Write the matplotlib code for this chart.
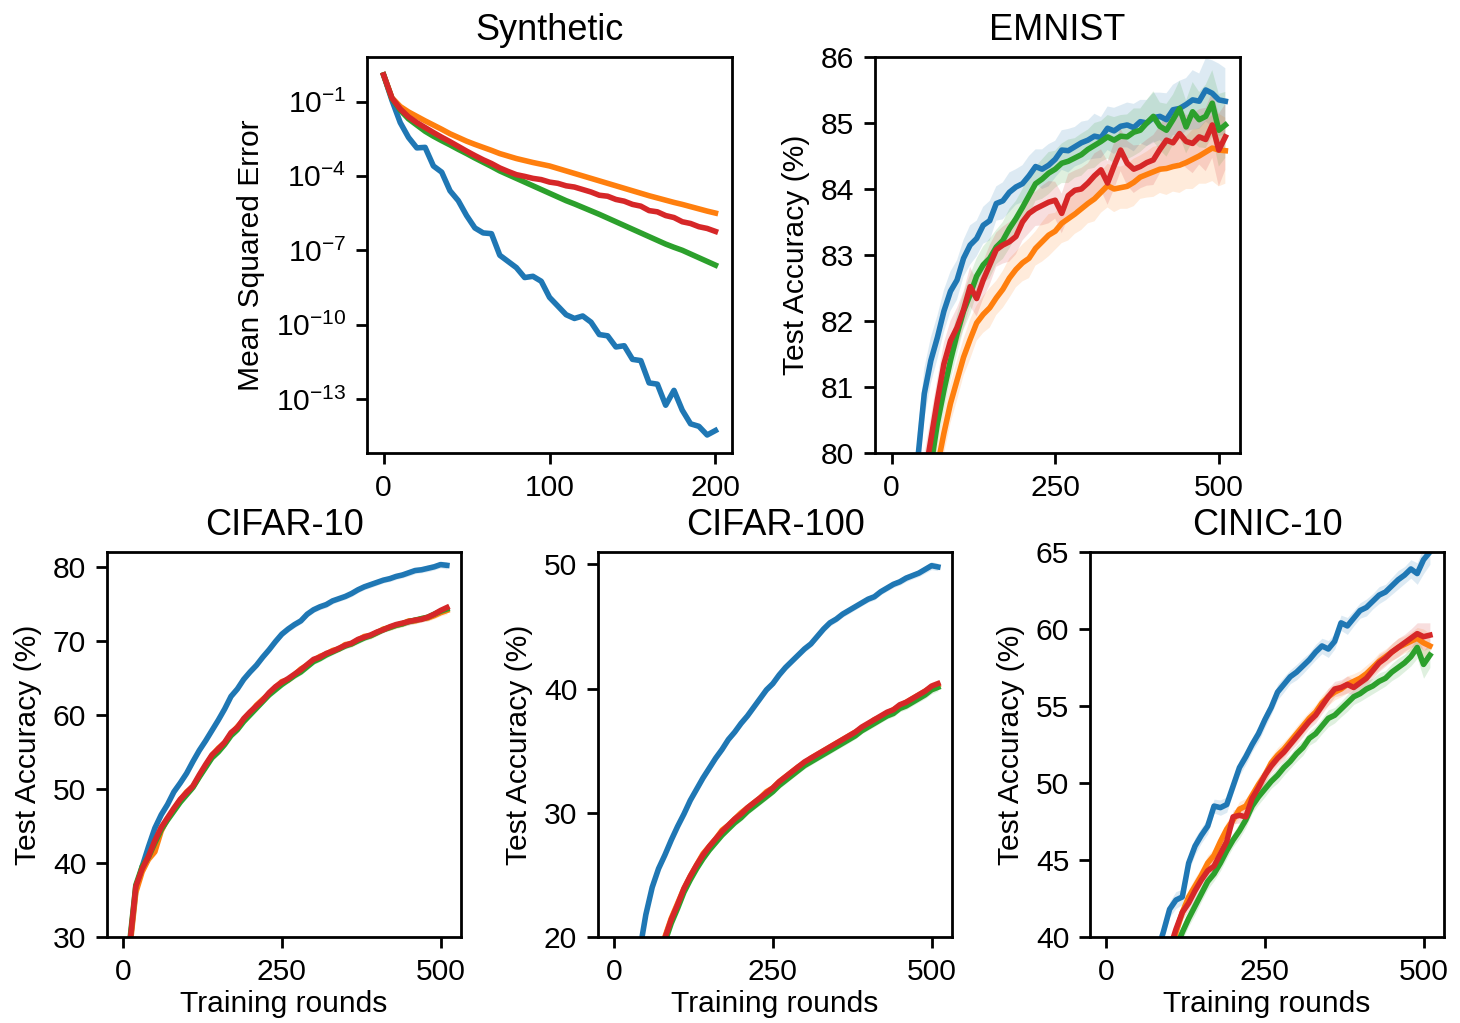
import numpy as np
import matplotlib.pyplot as plt

plt.rcParams['font.family'] = ['Liberation Sans', 'DejaVu Sans']
plt.rcParams['font.size'] = 10.8
plt.rcParams['axes.titlesize'] = 13
plt.rcParams['axes.linewidth'] = 1.0
plt.rcParams['xtick.major.width'] = 1.0
plt.rcParams['ytick.major.width'] = 1.0
plt.rcParams['xtick.major.size'] = 4
plt.rcParams['ytick.major.size'] = 4

colors = ['tab:blue', 'tab:orange', 'tab:green', 'tab:red']

# Synthetic: log10 of mean squared error, every 5 rounds
synth_rounds = np.arange(0, 201, 5)
synth_blue = [0.07, -0.95, -1.85, -2.45, -2.87, -2.85, -3.6, -3.85, -4.6, -5.0,
              -5.6, -6.1, -6.3, -6.33, -7.2, -7.45, -7.7, -8.1, -8.05, -8.25,
              -8.9, -9.25, -9.6, -9.75, -9.65, -9.9, -10.4, -10.45, -10.9, -10.85,
              -11.4, -11.45, -12.35, -12.4, -13.25, -12.65, -13.45, -14.0, -14.1, -14.45,
              -14.27]
synth_orange = [0.07, -0.85, -1.2, -1.42, -1.6, -1.78, -1.95, -2.12, -2.3, -2.45,
                -2.6, -2.73, -2.85, -2.97, -3.1, -3.2, -3.3, -3.38, -3.46, -3.53,
                -3.6, -3.7, -3.8, -3.9, -4.0, -4.1, -4.2, -4.3, -4.4, -4.5,
                -4.6, -4.7, -4.8, -4.89, -4.98, -5.07, -5.15, -5.24, -5.33, -5.42,
                -5.5]
synth_green = [0.07, -0.88, -1.35, -1.7, -1.95, -2.2, -2.4, -2.58, -2.75, -2.93,
               -3.1, -3.28, -3.45, -3.62, -3.8, -3.95, -4.1, -4.25, -4.4, -4.55,
               -4.7, -4.85, -5.0, -5.13, -5.27, -5.41, -5.55, -5.7, -5.85, -6.0,
               -6.15, -6.3, -6.45, -6.6, -6.75, -6.88, -7.0, -7.15, -7.3, -7.45,
               -7.6]
synth_red = [0.07, -0.86, -1.3, -1.62, -1.85, -2.05, -2.25, -2.44, -2.62, -2.81,
             -3.0, -3.18, -3.35, -3.5, -3.68, -3.82, -3.95, -4.02, -4.1, -4.15,
             -4.25, -4.3, -4.4, -4.45, -4.55, -4.65, -4.78, -4.82, -4.95, -5.02,
             -5.15, -5.22, -5.4, -5.45, -5.6, -5.68, -5.85, -5.92, -6.05, -6.12,
             -6.24]

# accuracy curves, every 10 rounds
rounds = np.arange(0, 511, 10)

emnist_blue = [60.0, 70.0, 75.0, 78.0, 79.9, 80.9, 81.4, 81.75, 82.15, 82.45,
               82.62, 82.95, 83.15, 83.25, 83.45, 83.52, 83.78, 83.82, 83.95, 84.03,
               84.08, 84.2, 84.34, 84.3, 84.36, 84.45, 84.59, 84.58, 84.64, 84.7,
               84.74, 84.8, 84.78, 84.92, 84.88, 84.95, 84.97, 84.93, 85.02, 85.0,
               85.08, 85.1, 85.05, 85.2, 85.22, 85.28, 85.35, 85.33, 85.5, 85.45,
               85.35, 85.33]
emnist_orange = [58.0, 66.0, 72.0, 75.5, 77.5, 78.6, 79.3, 79.8, 80.3, 80.75,
                 81.1, 81.45, 81.72, 81.97, 82.1, 82.2, 82.35, 82.48, 82.65, 82.78,
                 82.88, 82.95, 83.1, 83.2, 83.3, 83.36, 83.48, 83.55, 83.62, 83.7,
                 83.78, 83.85, 83.95, 84.05, 84.0, 84.02, 84.04, 84.1, 84.18, 84.22,
                 84.26, 84.3, 84.31, 84.34, 84.36, 84.4, 84.45, 84.5, 84.56, 84.62,
                 84.59, 84.58]
emnist_green = [60.0, 68.0, 73.5, 76.5, 78.3, 79.3, 79.8, 80.45, 80.95, 81.4,
                81.8, 82.15, 82.4, 82.68, 82.85, 82.95, 83.12, 83.22, 83.4, 83.55,
                83.72, 83.9, 84.08, 84.15, 84.24, 84.3, 84.39, 84.42, 84.47, 84.52,
                84.6, 84.66, 84.72, 84.79, 84.74, 84.8, 84.79, 84.86, 84.89, 85.0,
                85.1, 84.95, 84.89, 85.05, 85.22, 84.94, 85.17, 85.05, 85.1, 85.3,
                84.89, 84.97]
emnist_red = [60.0, 68.5, 74.0, 77.0, 78.8, 79.6, 80.2, 80.8, 81.35, 81.7,
              81.9, 82.17, 82.52, 82.34, 82.62, 82.85, 83.08, 83.15, 83.2, 83.28,
              83.5, 83.63, 83.7, 83.75, 83.8, 83.83, 83.63, 83.9, 83.98, 84.0,
              84.09, 84.2, 84.29, 84.09, 84.35, 84.59, 84.39, 84.3, 84.34, 84.4,
              84.44, 84.6, 84.74, 84.7, 84.84, 84.72, 84.69, 84.79, 84.75, 84.97,
              84.59, 84.79]
emnist_std = [0.5, 0.5, 0.5, 0.45, 0.4, 0.38, 0.35, 0.33, 0.32, 0.3,
              0.3, 0.28, 0.3, 0.27, 0.28, 0.3, 0.26, 0.28, 0.3, 0.27,
              0.28, 0.3, 0.26, 0.3, 0.32, 0.28, 0.3, 0.33, 0.3, 0.32,
              0.3, 0.34, 0.31, 0.33, 0.35, 0.32, 0.34, 0.36, 0.33, 0.35,
              0.38, 0.36, 0.4, 0.38, 0.42, 0.4, 0.45, 0.42, 0.48, 0.5,
              0.55, 0.5]

cifar10_blue = [10.0, 28.5, 36.3, 39.5, 42.2, 44.7, 46.5, 47.9, 49.6, 50.8,
                52.1, 53.7, 55.2, 56.5, 57.9, 59.3, 60.8, 62.5, 63.5, 64.8,
                65.8, 66.7, 67.8, 68.8, 69.9, 70.9, 71.6, 72.2, 72.7, 73.6,
                74.2, 74.6, 74.9, 75.4, 75.7, 76.0, 76.4, 76.9, 77.3, 77.6,
                77.9, 78.2, 78.4, 78.7, 78.9, 79.2, 79.5, 79.6, 79.8, 80.0,
                80.3, 80.2]
cifar10_orange = [10.0, 28.0, 36.0, 38.8, 40.5, 41.5, 44.3, 46.0, 47.2, 48.5,
                  49.6, 50.3, 51.7, 53.1, 54.5, 55.5, 56.2, 57.4, 58.4, 59.3,
                  60.2, 61.3, 62.1, 62.8, 63.7, 64.5, 64.7, 65.4, 66.2, 66.7,
                  67.3, 67.9, 68.2, 68.7, 68.9, 69.5, 69.6, 70.1, 70.6, 70.7,
                  71.1, 71.6, 71.8, 72.1, 72.3, 72.7, 72.7, 73.0, 73.1, 73.4,
                  73.8, 74.1]
cifar10_green = [10.0, 29.0, 37.0, 39.5, 40.8, 42.7, 44.5, 45.8, 47.0, 48.2,
                 49.2, 50.2, 51.6, 52.9, 54.2, 55.0, 56.0, 57.2, 58.0, 59.1,
                 60.0, 60.9, 61.8, 62.7, 63.4, 64.1, 64.7, 65.3, 65.8, 66.5,
                 67.2, 67.6, 68.1, 68.5, 68.9, 69.3, 69.6, 70.0, 70.4, 70.7,
                 71.1, 71.5, 71.8, 72.1, 72.3, 72.6, 72.8, 73.0, 73.2, 73.6,
                 74.0, 74.3]
cifar10_red = [10.0, 28.5, 36.8, 39.2, 40.9, 43.0, 44.8, 46.1, 47.4, 48.6,
               49.5, 50.4, 51.9, 53.3, 54.6, 55.4, 56.3, 57.6, 58.3, 59.5,
               60.4, 61.2, 62.0, 63.0, 63.8, 64.4, 64.9, 65.5, 66.1, 66.8,
               67.5, 67.8, 68.3, 68.6, 69.0, 69.4, 69.7, 70.2, 70.5, 70.8,
               71.2, 71.5, 71.9, 72.2, 72.4, 72.6, 72.8, 72.9, 73.2, 73.6,
               74.1, 74.5]
cifar10_std = [0.8, 0.8, 0.7, 0.6, 0.55, 0.5, 0.5, 0.45, 0.45, 0.4,
               0.4, 0.45, 0.4, 0.4, 0.42, 0.4, 0.38, 0.4, 0.42, 0.4,
               0.38, 0.4, 0.4, 0.42, 0.4, 0.38, 0.4, 0.42, 0.4, 0.4,
               0.38, 0.4, 0.42, 0.4, 0.38, 0.4, 0.42, 0.4, 0.4, 0.42,
               0.4, 0.38, 0.4, 0.42, 0.4, 0.45, 0.42, 0.4, 0.45, 0.42,
               0.45, 0.5]

cifar100_blue = [1.0, 5.0, 10.0, 14.0, 18.8, 21.8, 24.0, 25.5, 26.6, 27.8,
                 28.9, 29.9, 31.0, 31.9, 32.8, 33.6, 34.4, 35.1, 35.9, 36.5,
                 37.2, 37.8, 38.5, 39.2, 39.9, 40.4, 41.1, 41.7, 42.2, 42.7,
                 43.2, 43.6, 44.2, 44.8, 45.3, 45.6, 46.0, 46.3, 46.6, 46.9,
                 47.2, 47.4, 47.8, 48.1, 48.4, 48.6, 48.9, 49.1, 49.3, 49.6,
                 49.9, 49.8]
cifar100_orange = [1.0, 3.0, 6.0, 9.0, 12.0, 14.5, 16.7, 18.5, 20.0, 21.5,
                   22.7, 23.9, 24.9, 25.8, 26.7, 27.3, 27.9, 28.6, 29.0, 29.5,
                   30.0, 30.4, 30.8, 31.2, 31.7, 32.0, 32.5, 32.9, 33.3, 33.7,
                   34.0, 34.4, 34.7, 35.0, 35.3, 35.6, 35.9, 36.2, 36.5, 36.8,
                   37.1, 37.5, 37.7, 38.0, 38.3, 38.6, 38.9, 39.2, 39.5, 39.8,
                   40.1, 40.3]
cifar100_green = [1.0, 3.0, 6.0, 9.0, 12.0, 14.3, 16.4, 18.2, 19.6, 21.1,
                  22.3, 23.6, 24.6, 25.5, 26.3, 27.0, 27.6, 28.2, 28.7, 29.2,
                  29.6, 30.1, 30.5, 30.9, 31.3, 31.7, 32.2, 32.6, 33.0, 33.4,
                  33.8, 34.1, 34.4, 34.7, 35.0, 35.3, 35.6, 35.9, 36.2, 36.6,
                  36.9, 37.2, 37.5, 37.8, 38.0, 38.4, 38.6, 38.9, 39.2, 39.5,
                  39.9, 40.1]
cifar100_red = [1.0, 3.0, 6.0, 9.0, 12.0, 14.5, 16.6, 18.5, 19.9, 21.4,
                22.6, 23.9, 24.9, 25.8, 26.6, 27.3, 27.9, 28.5, 29.0, 29.5,
                29.9, 30.4, 30.8, 31.2, 31.6, 32.0, 32.5, 32.9, 33.3, 33.7,
                34.1, 34.4, 34.7, 35.0, 35.3, 35.6, 35.9, 36.2, 36.5, 36.9,
                37.2, 37.5, 37.8, 38.1, 38.3, 38.7, 38.9, 39.2, 39.5, 39.8,
                40.2, 40.4]
cifar100_std = [0.5, 0.5, 0.45, 0.4, 0.35, 0.3, 0.3, 0.28, 0.28, 0.25,
                0.25, 0.25, 0.26, 0.25, 0.24, 0.25, 0.26, 0.25, 0.24, 0.25,
                0.26, 0.25, 0.25, 0.26, 0.25, 0.24, 0.25, 0.26, 0.25, 0.25,
                0.26, 0.25, 0.24, 0.25, 0.26, 0.25, 0.25, 0.26, 0.25, 0.24,
                0.25, 0.26, 0.25, 0.25, 0.26, 0.27, 0.28, 0.27, 0.28, 0.3,
                0.32, 0.3]

cinic_blue = [18.0, 24.0, 28.0, 31.0, 33.0, 35.0, 36.5, 37.8, 39.0, 40.3,
              41.8, 42.4, 42.6, 44.8, 45.9, 46.6, 47.2, 48.5, 48.4, 48.6,
              49.8, 51.0, 51.7, 52.5, 53.2, 54.1, 54.9, 55.9, 56.4, 56.9,
              57.2, 57.6, 58.0, 58.5, 58.9, 58.7, 59.2, 60.4, 60.2, 60.7,
              61.2, 61.4, 61.8, 62.2, 62.4, 62.8, 63.2, 63.5, 63.9, 63.6,
              64.5, 65.0]
cinic_orange = [15.0, 20.0, 24.0, 27.0, 29.5, 31.5, 33.3, 34.8, 36.1, 37.2,
                38.3, 40.3, 41.6, 42.6, 43.3, 44.0, 44.8, 45.3, 46.2, 47.0,
                47.6, 48.3, 48.5, 49.2, 49.9, 50.5, 51.3, 51.8, 52.2, 52.7,
                53.2, 53.7, 54.2, 54.6, 55.2, 55.6, 55.9, 56.1, 56.4, 56.6,
                56.8, 57.1, 57.5, 57.9, 58.2, 58.5, 58.8, 59.0, 59.2, 59.4,
                59.1, 58.9]
cinic_green = [15.0, 19.5, 23.5, 26.5, 29.0, 31.0, 32.8, 34.3, 35.6, 36.9,
               38.2, 39.3, 40.3, 41.2, 42.0, 42.8, 43.6, 44.1, 44.8, 45.6,
               46.3, 46.9, 47.6, 48.5, 49.1, 49.6, 50.1, 50.5, 51.0, 51.4,
               51.9, 52.3, 52.9, 53.2, 53.7, 54.2, 54.4, 54.8, 55.2, 55.6,
               55.8, 56.1, 56.3, 56.6, 56.8, 57.2, 57.5, 57.8, 58.2, 58.8,
               57.7, 58.3]
cinic_red = [15.0, 20.0, 24.0, 27.0, 29.5, 31.5, 33.3, 34.8, 36.1, 37.2,
             39.2, 40.5, 41.6, 42.2, 43.0, 43.7, 44.3, 44.6, 45.4, 46.2,
             47.8, 47.9, 47.8, 49.0, 49.7, 50.5, 51.1, 51.6, 52.0, 52.5,
             53.0, 53.5, 54.0, 54.4, 55.0, 55.6, 56.1, 56.2, 56.4, 56.2,
             56.5, 56.8, 57.3, 57.8, 58.1, 58.5, 58.8, 59.1, 59.4, 59.7,
             59.5, 59.6]
cinic_std = [0.8, 0.8, 0.7, 0.7, 0.6, 0.6, 0.55, 0.5, 0.5, 0.5,
             0.5, 0.55, 0.5, 0.5, 0.55, 0.5, 0.5, 0.45, 0.5, 0.5,
             0.45, 0.5, 0.5, 0.45, 0.5, 0.5, 0.45, 0.5, 0.5, 0.45,
             0.5, 0.5, 0.45, 0.5, 0.5, 0.55, 0.5, 0.5, 0.55, 0.5,
             0.5, 0.55, 0.5, 0.55, 0.5, 0.55, 0.6, 0.55, 0.6, 0.7,
             0.9, 0.8]

fig = plt.figure(figsize=(7.3, 5.115), dpi=200)

# Synthetic panel (top left)
ax = fig.add_axes([0.2514, 0.5572, 0.2500, 0.3871])
for c, s in zip(colors, [synth_blue, synth_orange, synth_green, synth_red]):
    ax.plot(synth_rounds, 10.0 ** np.array(s), color=c, lw=2.0)
ax.set_yscale('log')
ax.set_yticks([1e-1, 1e-4, 1e-7, 1e-10, 1e-13])
ax.yaxis.set_minor_locator(plt.NullLocator())
ax.set_xticks([0, 100, 200])
ax.set_ylabel('Mean Squared Error')
ax.set_title('Synthetic')

# accuracy panels
panels = [
    ([0.5993, 0.5572, 0.2500, 0.3871], 'EMNIST',
     [emnist_blue, emnist_orange, emnist_green, emnist_red], emnist_std, (80, 86), False),
    ([0.0733, 0.0841, 0.2425, 0.3763], 'CIFAR-10',
     [cifar10_blue, cifar10_orange, cifar10_green, cifar10_red], cifar10_std, (30, 82), True),
    ([0.4096, 0.0841, 0.2425, 0.3763], 'CIFAR-100',
     [cifar100_blue, cifar100_orange, cifar100_green, cifar100_red], cifar100_std, (20, 51), True),
    ([0.7466, 0.0841, 0.2425, 0.3763], 'CINIC-10',
     [cinic_blue, cinic_orange, cinic_green, cinic_red], cinic_std, (40, 65), True),
]

for rect, title, series, std, ylim, bottom in panels:
    ax = fig.add_axes(rect)
    std = np.array(std)
    for c, s in zip(colors, series):
        s = np.array(s)
        ax.fill_between(rounds, s - std, s + std, color=c, alpha=0.15, lw=0)
        ax.plot(rounds, s, color=c, lw=2.0)
    ax.set_xlim(-25.35, 532.35)
    ax.set_ylim(*ylim)
    ax.set_xticks([0, 250, 500])
    ax.set_ylabel('Test Accuracy (%)')
    ax.set_title(title)
    if bottom:
        ax.set_xlabel('Training rounds', labelpad=1.5)

fig.savefig('out.png', dpi=200)
